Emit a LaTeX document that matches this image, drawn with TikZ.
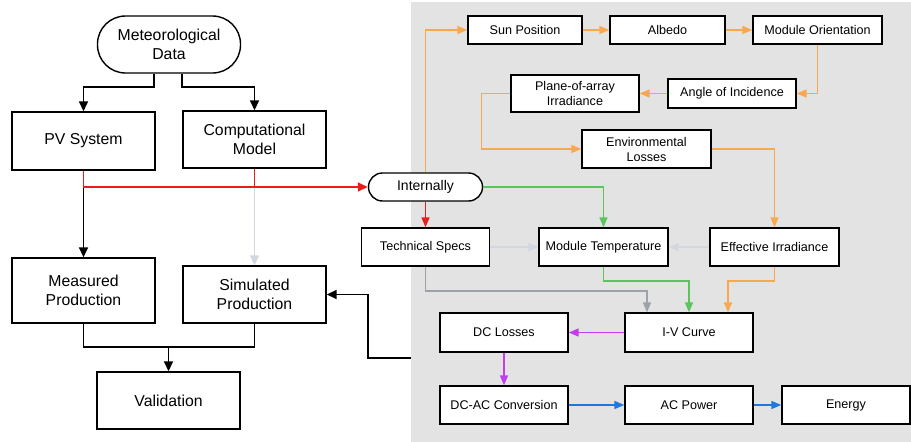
\documentclass[tikz,border=0pt]{standalone}
\usepackage{fontspec}
\setmainfont{Liberation Sans}
\usetikzlibrary{arrows.meta}
\definecolor{bggray}{HTML}{E3E3E3}
\definecolor{oline}{HTML}{F8A84E}
\definecolor{rline}{HTML}{E61E1E}
\definecolor{gline}{HTML}{5CC45C}
\definecolor{dgline}{HTML}{9DA1A8}
\definecolor{lgline}{HTML}{D2D8E0}
\definecolor{pline}{HTML}{C23CF0}
\definecolor{bline}{HTML}{1F78E0}
\tikzset{
  box/.style={draw=black, line width=1.4pt, fill=white, inner sep=0pt, align=center},
  bigbox/.style={box, font=\fontsize{15.8}{19}\selectfont, minimum width=143pt, minimum height=57pt},
  smallbox/.style={box, font=\fontsize{12.6}{15}\selectfont, minimum width=128pt, minimum height=38pt},
  conn/.style={line width=1.6pt},
  arr/.style={conn, -{Triangle[length=10pt,width=9pt]}},
  carr/.style={line width=1.6pt, -{Triangle[length=10pt,width=8pt]}},
}
\begin{document}
\begin{tikzpicture}[x=1pt,y=-1pt]
\useasboundingbox (0,0) rectangle (911,442);
\fill[bggray] (411,2) rectangle (911,442);

% left nodes
\node[bigbox, rounded corners=28pt] (met) at (169,44.5) {Meteorological\\Data};
\node[bigbox, minimum height=58pt] (pv) at (83.5,141) {PV System};
\node[bigbox] (comp) at (254.5,139.5) {Computational\\Model};
\node[bigbox, minimum height=65pt] (meas) at (83.5,290.5) {Measured\\Production};
\node[bigbox] (sim) at (254.5,294.5) {Simulated\\Production};
\node[bigbox] (val) at (168.5,400.5) {Validation};

% right nodes
\node[smallbox, rounded corners=14pt, minimum width=114pt, minimum height=28pt, font=\fontsize{14}{16}\selectfont] (intern) at (425.5,187) {Internally};
\node[smallbox, minimum width=114pt, minimum height=28pt] (sun) at (525,30) {Sun Position};
\node[smallbox, minimum width=115pt, minimum height=28pt] (alb) at (667.5,30) {Albedo};
\node[smallbox, minimum width=129pt, minimum height=28pt] (mo) at (817.5,30) {Module Orientation};
\node[smallbox, minimum height=37pt] (poa) at (575,93.5) {Plane-of-array\\Irradiance};
\node[smallbox, minimum height=29pt] (aoi) at (732,93.5) {Angle of Incidence};
\node[smallbox, minimum width=129pt] (env) at (646.5,149) {Environmental\\Losses};
\node[smallbox] (ts) at (425.5,247) {Technical Specs};
\node[smallbox, minimum width=129pt] (mt) at (603.5,247) {Module Temperature};
\node[smallbox, minimum width=129pt] (eff) at (774.5,247) {Effective Irradiance};
\node[smallbox, minimum height=39pt] (dcl) at (504,332.5) {DC Losses};
\node[smallbox, minimum height=39pt] (iv) at (689,332.5) {I-V Curve};
\node[smallbox] (dcac) at (504,405) {DC-AC Conversion};
\node[smallbox] (acp) at (689,405) {AC Power};
\node[smallbox] (en) at (846,405) {Energy};

% left connectors
\draw[arr] ([xshift=-15pt]met.south) -- ([xshift=-15pt]met.south |- 0,87) -| (pv.north);
\draw[arr] ([xshift=13pt]met.south) -- ([xshift=13pt]met.south |- 0,87) -| (comp.north);
\draw[arr] (pv.south) -- (meas.north);
\draw[arr, draw=lgline, fill=lgline] (comp.south) -- (sim.north);
\draw[conn, rline] (comp.south) -- (comp.south |- intern.west);
\draw[arr, rline] (pv.south) |- (intern.west);
\draw[conn] (meas.south) |- (val.north |- 0,347) -| (sim.south);
\draw[arr] (val.north |- 0,347) -- (val.north);
\coordinate (src) at (411,357.7);
\draw[arr] (src) -- (368,357.7) |- (sim.east);

% right connectors
\draw[carr, oline] (intern.north) |- (sun.west);
\draw[carr, oline] (sun) -- (alb);
\draw[carr, oline] (alb) -- (mo);
\draw[carr, oline] (mo.south) |- (aoi.east);
\draw[carr, oline] (aoi) -- (poa);
\draw[carr, oline] (poa.west) -- ++(-29,0) |- (env.west);
\draw[carr, oline] (env.east) -| (eff.north);
\draw[carr, gline] (intern.east) -| (mt.north);
\draw[carr, rline] (intern.south) -- (ts.north);
\draw[carr, lgline] (ts) -- (mt);
\draw[carr, lgline] (eff) -- (mt);
\draw[carr, dgline] (ts.south) -- ++(0,24) -| ([xshift=-42pt]iv.north);
\draw[carr, gline] (mt.south) -- ++(0,14) -| (iv.north);
\draw[carr, oline] (eff.south) -- ++(0,14) -| ([xshift=39pt]iv.north);
\draw[carr, pline] (iv) -- (dcl);
\draw[carr, pline] (dcl) -- (dcac);
\draw[carr, bline] (dcac) -- (acp);
\draw[carr, bline] (acp) -- (en);
\end{tikzpicture}
\end{document}
